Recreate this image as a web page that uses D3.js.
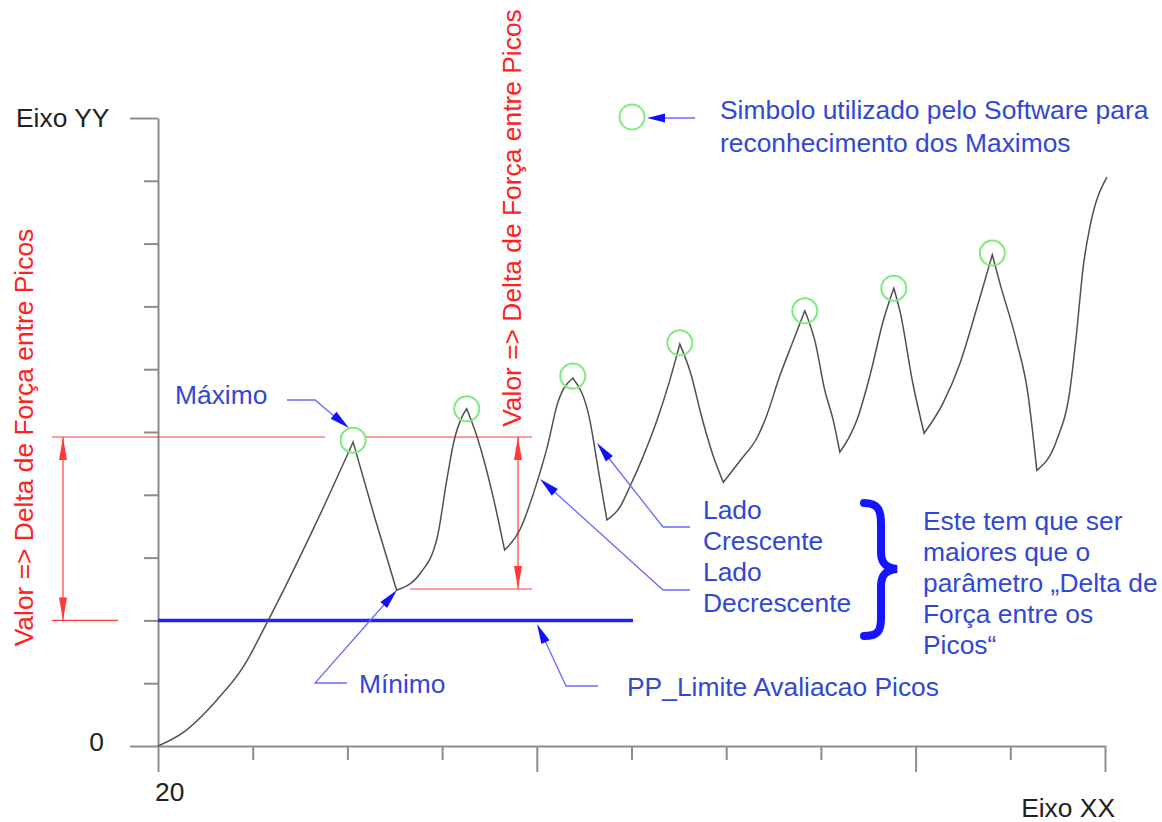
<!DOCTYPE html>
<html><head><meta charset="utf-8">
<script src="https://cdn.jsdelivr.net/npm/d3@7"></script>
<style>
html,body{margin:0;padding:0;background:#fff;}
svg{display:block;}
text{font-family:"Liberation Sans",Arial,sans-serif;}
</style>
</head><body>
<svg id="c" width="1162" height="822"></svg>
<script>
// ---------- data ----------
const xTickValues = [20,21,22,23,24,25,26,27,28,29,30];
const xLongTicks = [20,24,28,30];
const xTickLabels = ["20"];
const yTickValues = [0,1,2,3,4,5,6,7,8,9,10];
const yLongTicks = [0,10];
const yTickLabels = ["0"];

const curveX = [20.00,20.26,20.62,20.90,21.15,21.66,22.06,22.29,22.52,22.77,22.95,23.05,23.12,23.21,23.26,23.37,23.54,23.66,23.82,24.00,24.11,24.22,24.38,24.56,24.65,24.74,24.88,24.98,25.12,25.27,25.39,25.51,25.62,25.75,25.86,25.97,26.15,26.33,26.41,26.57,26.71,26.83,26.94,27.04,27.13,27.20,27.31,27.38,27.52,27.66,27.77,27.84,27.97,28.09,28.29,28.47,28.65,28.81,28.89,29.07,29.18,29.28,29.49,29.63,29.70,29.77,29.84,30.02];
const curveY = [0.00,0.21,0.73,1.26,1.96,3.52,4.84,3.63,2.48,2.75,3.33,4.24,4.82,5.24,5.37,4.92,3.96,3.12,3.44,4.19,4.76,5.46,5.86,5.19,4.39,3.60,3.81,4.12,4.60,5.19,5.75,6.40,5.96,5.19,4.63,4.20,4.55,4.92,5.19,5.91,6.46,6.93,6.43,5.67,5.19,4.68,4.95,5.19,5.91,6.78,7.29,6.89,5.78,4.98,5.46,6.10,6.99,7.82,7.37,6.42,5.67,4.39,4.87,5.67,6.58,7.63,8.26,9.06];

const peakX = [22.06,23.26,24.38,25.51,26.83,27.77,28.81];
const peakY = [4.87,5.37,5.89,6.42,6.93,7.29,7.85];

const limitLevel = 2.0;      // PP_Limite Avaliacao Picos
const deltaTopLevel = 4.92;  // red reference line (Máximo)
const deltaLowLevel = 2.5;   // red reference line (Mínimo)

// ---------- setup ----------
const svg = d3.select("#c");
const x = d3.scaleLinear().domain([20,30]).range([158,1105]);
const y = d3.scaleLinear().domain([0,10]).range([746,118]);

const AXIS = "#8c8c8c", RED = "#ff3a3a", REDTXT = "#ff2020",
      BLUE_TXT = "#3147d6", BLUE_ARR = "#1010ff", BLUE_LEAD = "#6a6aff",
      GREEN = "#7deb7d", CURVE = "#505050";
const FS = 26.4;

function arrowHead(g, tip, from, len, hw, color){
  const dx = tip[0]-from[0], dy = tip[1]-from[1], d = Math.hypot(dx,dy);
  const ux = dx/d, uy = dy/d, px = -uy, py = ux;
  const bx = tip[0]-ux*len, by = tip[1]-uy*len;
  g.append("path")
    .attr("d", `M${tip[0]},${tip[1]}L${bx+px*hw},${by+py*hw}L${bx-px*hw},${by-py*hw}Z`)
    .attr("fill", color);
}
function leader(g, pts, color, w){
  g.append("path").attr("d", d3.line()(pts)).attr("fill","none")
    .attr("stroke", color).attr("stroke-width", w||1.2);
}

// ---------- axes ----------
const yAxis = d3.axisLeft(y).tickValues(yTickValues).tickSize(14).tickSizeOuter(0).tickFormat("");
const gy = svg.append("g").attr("transform","translate(158,0)").call(yAxis);
gy.selectAll(".tick line").filter(d=>yLongTicks.includes(d)).attr("x2",-28);
const xAxis = d3.axisBottom(x).tickValues(xTickValues).tickSize(14).tickSizeOuter(0).tickFormat("");
const gx = svg.append("g").attr("transform","translate(0,746)").call(xAxis);
gx.selectAll(".tick line").filter(d=>xLongTicks.includes(d)).attr("y2",26);
[gx,gy].forEach(g=>{
  g.selectAll("path.domain").attr("stroke",AXIS).attr("stroke-width",2);
  g.selectAll(".tick line").attr("stroke",AXIS).attr("stroke-width",2);
});

svg.append("text").attr("x",155).attr("y",801).attr("font-size",FS).attr("fill","#222").text(xTickLabels[0]);
svg.append("text").attr("x",104).attr("y",751).attr("text-anchor","end").attr("font-size",FS).attr("fill","#222").text(yTickLabels[0]);
svg.append("text").attr("x",16).attr("y",127).attr("font-size",FS).attr("fill","#222").text("Eixo YY");
svg.append("text").attr("x",1115).attr("y",817).attr("text-anchor","end").attr("font-size",FS).attr("fill","#222").text("Eixo XX");

// ---------- red delta annotations ----------
const red = svg.append("g");
const yTop = y(deltaTopLevel), yLow = y(deltaLowLevel), yLim = y(limitLevel);
leader(red, [[52,yTop],[325,yTop]], RED, 1.2);
leader(red, [[366,yTop],[532,yTop]], RED, 1.2);
leader(red, [[52,yLim],[118,yLim]], RED, 1.2);
leader(red, [[410,yLow],[532,yLow]], RED, 1.2);
leader(red, [[63,yTop],[63,yLim]], RED, 1.2);
arrowHead(red, [63,yTop], [63,yLim], 23, 4, RED);
arrowHead(red, [63,yLim], [63,yTop], 23, 4, RED);
leader(red, [[518,yTop],[518,yLow]], RED, 1.2);
arrowHead(red, [518,yTop], [518,yLow], 23, 4, RED);
arrowHead(red, [518,yLow], [518,yTop], 23, 4, RED);
red.append("text").attr("transform","translate(33,437.5) rotate(-90)").attr("text-anchor","middle")
  .attr("font-size",FS).attr("fill",REDTXT).text("Valor => Delta de Força entre Picos");
red.append("text").attr("transform","translate(521,218) rotate(-90)").attr("text-anchor","middle")
  .attr("font-size",FS).attr("fill",REDTXT).text("Valor => Delta de Força entre Picos");

// ---------- limit line ----------
svg.append("line").attr("x1",x(20)).attr("x2",633).attr("y1",yLim).attr("y2",yLim)
  .attr("stroke","#2222ff").attr("stroke-width",3.5);

// ---------- curve (smooth between extrema, sharp at peaks/valleys) ----------
const pts = curveX.map((v,i)=>[v,curveY[i]]);
const segs = []; let cur = [pts[0]];
for (let i=1;i<pts.length;i++){
  cur.push(pts[i]);
  if (i<pts.length-1){
    const a = pts[i][1]-pts[i-1][1], b = pts[i+1][1]-pts[i][1];
    if (a*b<0){ segs.push(cur); cur=[pts[i]]; }
  }
}
segs.push(cur);
const segLine = d3.line().x(d=>x(d[0])).y(d=>y(d[1])).curve(d3.curveMonotoneX);
const dPath = segs.map((s,i)=>{ const p = segLine(s); return i===0 ? p : "L"+p.slice(1); }).join("");
svg.append("path").attr("d", dPath)
  .attr("fill","none").attr("stroke",CURVE).attr("stroke-width",1.5).attr("stroke-linejoin","miter");

// ---------- peak markers ----------
svg.append("g").selectAll("circle").data(peakX.map((v,i)=>[v,peakY[i]])).join("circle")
  .attr("cx",d=>x(d[0])).attr("cy",d=>y(d[1])).attr("r",12.5)
  .attr("fill","none").attr("stroke",GREEN).attr("stroke-width",2);

// ---------- blue annotations ----------
const blue = svg.append("g");
function btext(xp, yp, lines, step){
  lines.forEach((s,i)=>blue.append("text").attr("x",xp).attr("y",yp+i*(step||31))
    .attr("font-size",FS).attr("fill",BLUE_TXT).text(s));
}
// legend
blue.append("circle").attr("cx",632).attr("cy",117).attr("r",12.5).attr("fill","none").attr("stroke",GREEN).attr("stroke-width",2);
leader(blue, [[695,118],[660,118]], BLUE_LEAD, 1.5);
arrowHead(blue, [647,118], [695,118], 18, 4.5, BLUE_ARR);
btext(720, 119, ["Simbolo utilizado pelo Software para","reconhecimento dos Maximos"], 33);

// Máximo
btext(175, 404, ["Máximo"]);
leader(blue, [[287,400],[315,400],[340,421]], BLUE_LEAD, 1.3);
arrowHead(blue, [349,428], [315,400], 20, 4.5, BLUE_ARR);

// Mínimo
btext(359, 693, ["Mínimo"]);
leader(blue, [[347,683],[315,683],[390,598]], BLUE_LEAD, 1.3);
arrowHead(blue, [397,590], [315,683], 20, 4.5, BLUE_ARR);

// PP limit
btext(627, 696, ["PP_Limite Avaliacao Picos"]);
leader(blue, [[598,686],[566,686],[541,632]], BLUE_LEAD, 1.3);
arrowHead(blue, [537,624], [566,686], 20, 4.5, BLUE_ARR);

// Lado Crescente / Decrescente
btext(703, 519, ["Lado","Crescente","Lado","Decrescente"], 31);
leader(blue, [[690,527],[663,527],[604,452]], BLUE_LEAD, 1.3);
arrowHead(blue, [597,443], [663,527], 20, 4.5, BLUE_ARR);
leader(blue, [[690,590],[663,590],[548,486]], BLUE_LEAD, 1.3);
arrowHead(blue, [540,479], [663,590], 20, 4.5, BLUE_ARR);

// brace + note
blue.append("path")
  .attr("d","M864,503 C878,503 881,510 881,524 L881,552 C881,563 886,568 897,569 C886,570 881,575 881,586 L881,618 C881,631 878,636 864,636")
  .attr("fill","none").attr("stroke","#1515ff").attr("stroke-width",8).attr("stroke-linecap","round");
btext(923, 530, ["Este tem que ser","maiores que o","parâmetro \u201EDelta de","Força entre os","Picos\u201C"], 31);
</script>
</body></html>
